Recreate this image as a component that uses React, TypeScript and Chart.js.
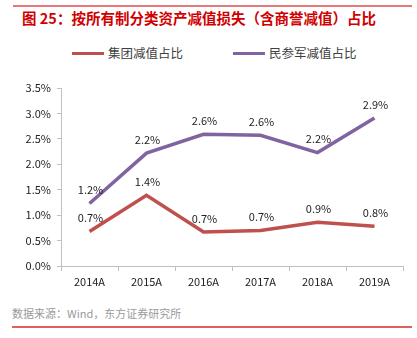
import React, { useEffect, useRef } from "react";
import { Chart, registerables } from "chart.js";

Chart.register(...registerables);

const categories = ["2014A", "2015A", "2016A", "2017A", "2018A", "2019A"];
const groupValues = [0.68, 1.39, 0.67, 0.70, 0.86, 0.78];
const privateValues = [1.23, 2.22, 2.59, 2.57, 2.23, 2.91];
const seriesNames = ["集团减值占比", "民参军减值占比"];
const yTicksMax = 3.5;

const RED = "#c0504d";
const PURPLE = "#8064a2";
const COLORS = [RED, PURPLE];
const FONT = "'Noto Sans CJK SC', 'Noto Sans', sans-serif";

const labelPlugin = {
  id: "pointLabels",
  afterDatasetsDraw(chart: any) {
    const ctx = chart.ctx;
    ctx.save();
    ctx.font = `11px ${FONT}`;
    ctx.fillStyle = "#222";
    ctx.textAlign = "center";
    ctx.textBaseline = "bottom";
    chart.data.datasets.forEach((ds: any, i: number) => {
      const meta = chart.getDatasetMeta(i);
      meta.data.forEach((pt: any, j: number) => {
        ctx.fillText(ds.data[j].toFixed(1) + "%", pt.x + 1, pt.y - 8);
      });
    });
    ctx.restore();
  },
};

export default function App() {
  const ref = useRef<HTMLCanvasElement>(null);
  useEffect(() => {
    document.body.style.margin = "0";
    const chart = new Chart(ref.current!, {
      type: "line",
      data: {
        labels: categories,
        datasets: [
          {
            label: seriesNames[0],
            data: groupValues,
            borderColor: RED,
            backgroundColor: RED,
            borderWidth: 3.5,
            pointRadius: 0,
            tension: 0,
          },
          {
            label: seriesNames[1],
            data: privateValues,
            borderColor: PURPLE,
            backgroundColor: PURPLE,
            borderWidth: 3.5,
            pointRadius: 0,
            tension: 0,
          },
        ],
      },
      options: {
        animation: false,
        responsive: false,
        layout: { padding: { left: 0, right: 14, top: 48, bottom: 0 } },
        plugins: {
          legend: { display: false },
          tooltip: { enabled: false },
        },
        scales: {
          x: {
            offset: true,
            grid: {
              offset: true,
              drawOnChartArea: false,
              drawTicks: true,
              tickLength: 5,
              color: "#bfbfbf",
            },
            border: { color: "#bfbfbf", width: 1 },
            ticks: { color: "#222", font: { size: 11, family: FONT }, padding: 4 },
            afterFit(scale: any) {
              scale.height = 29;
            },
          },
          y: {
            min: 0,
            max: yTicksMax,
            ticks: {
              stepSize: 0.5,
              color: "#222",
              font: { size: 11, family: FONT },
              padding: 6,
              callback: (v: any) => Number(v).toFixed(1) + "%",
            },
            grid: {
              drawOnChartArea: false,
              drawTicks: true,
              tickLength: 4,
              color: "#bfbfbf",
            },
            border: { color: "#bfbfbf", width: 1 },
            afterFit(scale: any) {
              scale.width = 61;
            },
          },
        },
      },
      plugins: [labelPlugin],
    });
    return () => chart.destroy();
  }, []);

  const legendLeft = [72, 233];

  return (
    <div style={{ position: "relative", width: 417, height: 338, background: "#fff", fontFamily: FONT }}>
      <div style={{ position: "absolute", left: 13, top: 5, width: 399, height: 2, background: "#e87878" }} />
      <div
        style={{
          position: "absolute",
          left: 22,
          top: 8,
          fontSize: 14.5,
          fontWeight: "bold",
          color: "#d00000",
          whiteSpace: "nowrap",
          lineHeight: "20px",
        }}
      >
        图 25：按所有制分类资产减值损失（含商誉减值）占比
      </div>
      {seriesNames.map((name, i) => (
        <div
          key={name}
          style={{
            position: "absolute",
            left: legendLeft[i],
            top: 44,
            height: 18,
            display: "flex",
            alignItems: "center",
            whiteSpace: "nowrap",
          }}
        >
          <span style={{ display: "inline-block", width: 32, height: 3, background: COLORS[i], marginRight: 4 }} />
          <span style={{ fontSize: 12.5, color: "#404040", lineHeight: "18px" }}>{name}</span>
        </div>
      ))}
      <canvas ref={ref} width={417} height={255} style={{ position: "absolute", left: 0, top: 40 }} />
      <div
        style={{
          position: "absolute",
          left: 12,
          top: 304,
          fontSize: 11,
          color: "#9a9a9a",
          whiteSpace: "nowrap",
          lineHeight: "18px",
        }}
      >
        数据来源：Wind，东方证券研究所
      </div>
      <div style={{ position: "absolute", left: 12, top: 326, width: 400, height: 1.5, background: "#e06060" }} />
    </div>
  );
}
